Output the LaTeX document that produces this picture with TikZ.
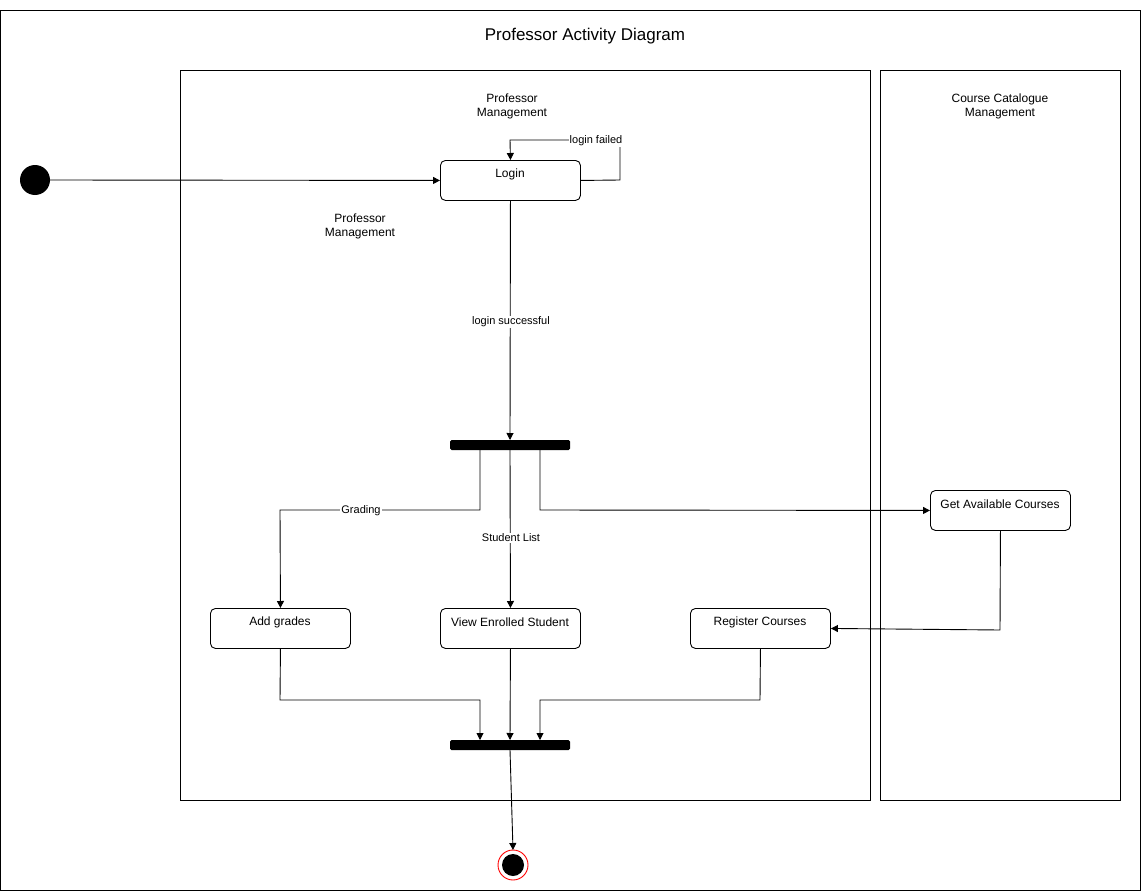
\documentclass[tikz,border=0pt]{standalone}
\usepackage{fontspec}
\setmainfont{Liberation Sans}
\usetikzlibrary{arrows.meta}
\begin{document}
\begin{tikzpicture}[x=1pt,y=-1pt,
  every node/.style={font=\fontsize{12}{14}\selectfont},
  act/.style={draw,line width=0.9pt,rounded corners=5pt,minimum width=140pt,minimum height=40pt,anchor=north west,inner sep=0pt},
  lane/.style={draw,line width=0.9pt},
  bar/.style={fill=black,rounded corners=1.5pt},
  flow/.style={-{Triangle[length=7pt,width=7pt]},line width=0.9pt},
  elabel/.style={fill=white,inner sep=1pt,font=\fontsize{11}{13}\selectfont}]
\useasboundingbox (0,0) rectangle (1141,891);
% outer frame and title
\draw[line width=0.9pt] (0.5,10) rectangle (1140.5,890);
\node (title) at (585,36) {\fontsize{17}{20}\selectfont Professor Activity Diagram};
% swimlanes
\draw[lane] (180,70) rectangle (870,800);
\draw[lane] (880,70) rectangle (1120,800);
\node[align=center] (lane1) at (512,106) {Professor\\Management};
\node[align=center] (lane2) at (1000,106) {Course Catalogue\\Management};
\node[align=center] (note) at (360,226) {Professor\\Management};
% start and end
\fill (35,180) circle (15pt) coordinate (start);
\coordinate (startE) at (50,180);
\draw[red,line width=0.9pt,fill=white] (513,865) circle (15pt);
\fill (513,865) circle (11pt);
\coordinate (endN) at (513,850);
% activities
\node[act] (login) at (440,160) {};
\node at (510,174) {Login};
\node[act] (get) at (930,490) {};
\node at (1000,504) {Get Available Courses};
\node[act] (add) at (210,608) {};
\node at (280,622) {Add grades};
\node[act] (view) at (440,608) {};
\node at (510,622) {View Enrolled Student};
\node[act] (reg) at (690,608) {};
\node at (760,622) {Register Courses};
% fork and join bars
\fill[bar] (450,440) rectangle (570,450);
\coordinate (fork) at (510,440);
\fill[bar] (450,740) rectangle (570,750);
% flows
\draw[flow] (startE) -- (login.west);
\draw[flow] (login.east) -- (620,180) -- (620,140) -- (510,140) -- (login.north);
\node[elabel] at (596,141) {login failed};
\draw[flow] (login.south) -- (fork);
\node[elabel] at (511,322) {login successful};
\draw[flow] (480,450) -- (480,510) -- (280,510) -- (add.north);
\node[elabel] at (361,511) {Grading};
\draw[flow] (510,450) -- (view.north);
\node[elabel] at (511,538) {Student List};
\draw[flow] (540,450) -- (540,510) -- (get.west);
\draw[flow] (get.south) -- (1000,630) -- (reg.east);
\draw[flow] (add.south) -- (280,700) -- (480,700) -- (480,740);
\draw[flow] (view.south) -- (510,740);
\draw[flow] (reg.south) -- (760,700) -- (540,700) -- (540,740);
\draw[flow] (510,750) -- (endN);
\end{tikzpicture}
\end{document}
